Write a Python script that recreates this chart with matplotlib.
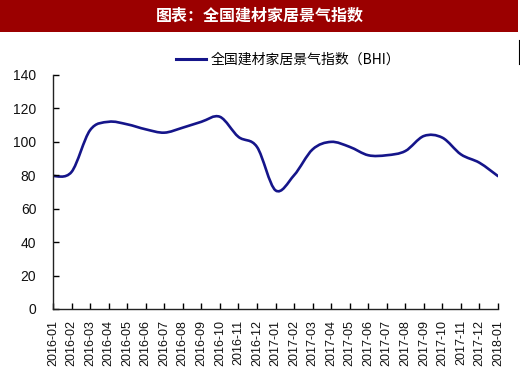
import matplotlib
matplotlib.use("Agg")
import matplotlib.pyplot as plt
from matplotlib.path import Path
from matplotlib.patches import PathPatch, Rectangle
from matplotlib.lines import Line2D
import numpy as np

plt.rcParams['font.family'] = ['Liberation Sans', 'Noto Sans CJK SC', 'DejaVu Sans']

months = ['2016-01', '2016-02', '2016-03', '2016-04', '2016-05', '2016-06', '2016-07',
          '2016-08', '2016-09', '2016-10', '2016-11', '2016-12', '2017-01', '2017-02',
          '2017-03', '2017-04', '2017-05', '2017-06', '2017-07', '2017-08', '2017-09',
          '2017-10', '2017-11', '2017-12', '2018-01']
bhi = [79.5, 82, 107, 112, 110.5, 107.5, 105.5, 108.5, 112, 115, 103, 97,
       71, 80, 95.5, 100, 97, 92, 92, 94.5, 103.5, 102.5, 92.5, 87.5, 79.5]

title = '图表：全国建材家居景气指数'
legend_label = '全国建材家居景气指数（BHI）'
line_color = '#15158a'

fig = plt.figure(figsize=(5.2, 3.79), dpi=100)
fig.patch.set_facecolor('white')

# title bar
fig.patches.append(Rectangle((0, 1 - 32 / 379), 518 / 520, 32 / 379, transform=fig.transFigure,
                             facecolor='#9b0000', edgecolor='none', zorder=0))
fig.text(260 / 520, 1 - 16 / 379, title, color='white', fontsize=11.5, fontweight='bold',
         ha='center', va='center', family=['Noto Sans CJK SC', 'DejaVu Sans'])
# small vertical mark at right edge
fig.lines.append(Line2D([519 / 520, 519 / 520], [1 - 40 / 379, 1 - 64 / 379],
                        transform=fig.transFigure, color='black', linewidth=0.8))

ax = fig.add_axes([53 / 520, 1 - 309 / 379, (498 - 53) / 520, (309 - 75) / 379])

x = np.arange(len(bhi), dtype=float)
y = np.array(bhi, dtype=float)

# smooth curve via Catmull-Rom -> cubic Bezier segments
verts = [(x[0], y[0])]
codes = [Path.MOVETO]
n = len(x)
for i in range(n - 1):
    p0 = np.array([x[max(i - 1, 0)], y[max(i - 1, 0)]])
    p1 = np.array([x[i], y[i]])
    p2 = np.array([x[i + 1], y[i + 1]])
    p3 = np.array([x[min(i + 2, n - 1)], y[min(i + 2, n - 1)]])
    c1 = p1 + (p2 - p0) / 6.0
    c2 = p2 - (p3 - p1) / 6.0
    verts += [tuple(c1), tuple(c2), tuple(p2)]
    codes += [Path.CURVE4, Path.CURVE4, Path.CURVE4]
path = Path(verts, codes)
ax.add_patch(PathPatch(path, facecolor='none', edgecolor=line_color, linewidth=1.9,
                       capstyle='round', joinstyle='round'))

ax.set_xlim(0, len(bhi) - 1)
ax.set_ylim(0, 140)
ax.set_yticks(np.arange(0, 141, 20))
ax.set_xticks(x)
ax.set_xticklabels(months, rotation=90, fontsize=9, color='#111111')
ax.tick_params(axis='y', direction='in', length=4, width=1, pad=12, labelsize=10, labelcolor='#111111')
ax.tick_params(axis='x', direction='in', length=4, width=1, pad=8)
for s in ['top', 'right']:
    ax.spines[s].set_visible(False)
for s in ['left', 'bottom']:
    ax.spines[s].set_linewidth(1.0)
    ax.spines[s].set_color('#222222')

handle = Line2D([], [], color=line_color, linewidth=2.2)
fig.legend([handle], [legend_label], loc='center', bbox_to_anchor=(288 / 520, 1 - 60 / 379),
           frameon=False, handlelength=2.2, handletextpad=0.3,
           prop={'family': ['Noto Sans CJK SC', 'DejaVu Sans'], 'size': 10})

fig.savefig('out.png', dpi=100)
